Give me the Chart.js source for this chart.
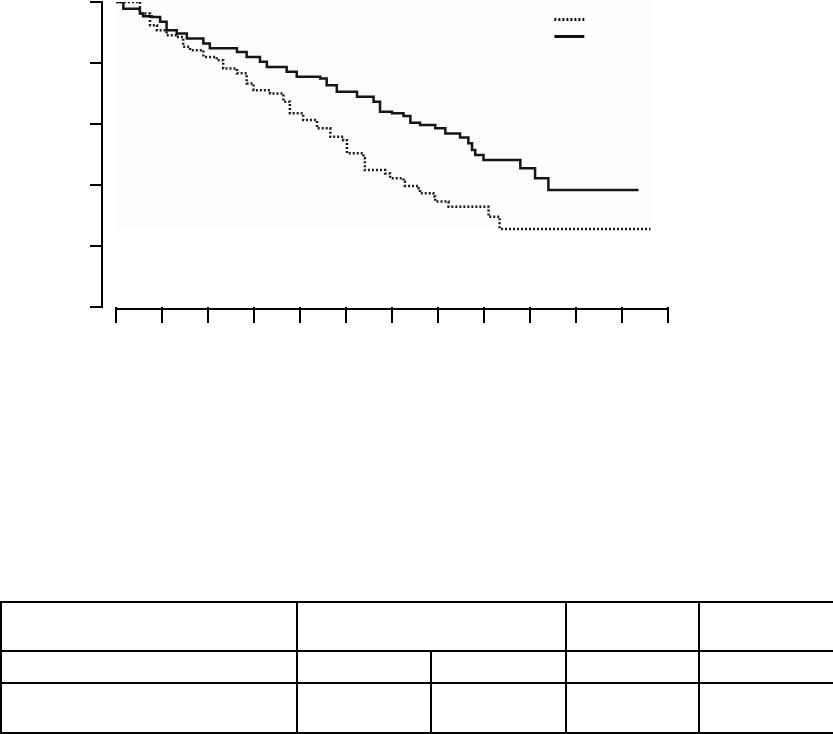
<!DOCTYPE html>
<html>
<head>
<meta charset="utf-8">
<script src="https://cdn.jsdelivr.net/npm/chart.js@4/dist/chart.umd.min.js"></script>
<style>
  html, body { margin: 0; padding: 0; background: #fff; }
  #wrap { position: relative; width: 833px; height: 734px; }
  #c { position: absolute; left: 0; top: 0; }
  table { position: absolute; left: 0; top: 601px; width: 833px; border-collapse: collapse; table-layout: fixed; }
  td { border: 2px solid #000; padding: 0; }
</style>
</head>
<body>
<div id="wrap">
  <canvas id="c" width="833" height="340"></canvas>
  <table>
    <colgroup>
      <col style="width:296px"><col style="width:134px"><col style="width:135px"><col style="width:133px"><col style="width:135px">
    </colgroup>
    <tr style="height:49px"><td></td><td colspan="2"></td><td></td><td></td></tr>
    <tr style="height:32px"><td></td><td></td><td></td><td></td><td></td></tr>
    <tr style="height:50px"><td></td><td></td><td></td><td></td><td></td></tr>
  </table>
</div>
<script>
// Tick values
const xTickValues = [0,1,2,3,4,5,6,7,8,9,10,11,12];
const yTickValues = [0, 0.2, 0.4, 0.6, 0.8, 1.0];

// Solid curve (upper group): event times and survival after each step
const solidTimes = [0, 0.16, 0.52, 0.59, 0.78, 0.96, 1.10, 1.32, 1.54, 1.90, 2.04, 2.63, 2.84, 3.13, 3.28, 3.71, 3.93, 4.44, 4.58, 4.80, 5.24, 5.60, 5.74, 6.00, 6.25, 6.40, 6.61, 6.94, 7.16, 7.48, 7.66, 7.74, 7.81, 7.99, 8.79, 9.11, 9.40, 11.36];
const solidSurv  = [1.000, 0.978, 0.962, 0.953, 0.951, 0.935, 0.907, 0.897, 0.880, 0.864, 0.848, 0.836, 0.820, 0.804, 0.787, 0.771, 0.755, 0.749, 0.727, 0.706, 0.689, 0.673, 0.640, 0.635, 0.626, 0.604, 0.597, 0.586, 0.569, 0.556, 0.537, 0.515, 0.498, 0.482, 0.455, 0.422, 0.384, 0.384];

// Dotted curve (lower group)
const dottedTimes = [0, 0.52, 0.74, 0.89, 1.10, 1.32, 1.46, 1.61, 1.90, 2.19, 2.33, 2.63, 2.84, 2.99, 3.35, 3.64, 3.78, 4.07, 4.37, 4.66, 4.94, 5.02, 5.38, 5.41, 5.85, 5.96, 6.25, 6.28, 6.58, 6.61, 6.90, 6.94, 7.23, 8.10, 8.34, 11.62];
const dottedSurv  = [1.000, 0.962, 0.924, 0.907, 0.891, 0.885, 0.853, 0.842, 0.820, 0.809, 0.782, 0.766, 0.733, 0.711, 0.700, 0.673, 0.635, 0.613, 0.586, 0.558, 0.547, 0.504, 0.488, 0.449, 0.438, 0.422, 0.411, 0.397, 0.389, 0.373, 0.362, 0.346, 0.329, 0.296, 0.256, 0.256];

// Shaded plot panel extent (in data units) and legend anchors
const panelBox = { x0: 0, x1: 11.62, y0: 0.253, y1: 1.01 };
const legendAnchor = { x0: 9.53, x1: 10.18, yDotted: 0.943, ySolid: 0.888 };

const toXY = (t, s) => t.map((v, i) => ({ x: v, y: s[i] }));

const decor = {
  id: 'decor',
  beforeDatasetsDraw(chart) {
    const { ctx, scales: { x, y } } = chart;
    ctx.save();
    ctx.fillStyle = '#fcfcfc';
    const l = x.getPixelForValue(panelBox.x0), r = x.getPixelForValue(panelBox.x1);
    const t = 0, b = y.getPixelForValue(panelBox.y0);
    ctx.fillRect(l, t, r - l, b - t);
    ctx.restore();
  },
  afterDraw(chart) {
    const { ctx, scales: { x, y }, chartArea } = chart;
    ctx.save();
    // x-axis line spanning the tick range only
    ctx.strokeStyle = '#000';
    ctx.lineWidth = 2;
    ctx.beginPath();
    const yb = chartArea.bottom + 2;
    ctx.moveTo(x.getPixelForValue(xTickValues[0]) - 1, yb);
    ctx.lineTo(x.getPixelForValue(xTickValues[xTickValues.length - 1]) + 1, yb);
    ctx.stroke();
    // legend samples
    const lx0 = x.getPixelForValue(legendAnchor.x0), lx1 = x.getPixelForValue(legendAnchor.x1);
    ctx.lineWidth = 3;
    ctx.strokeStyle = '#111';
    ctx.setLineDash([2, 2]);
    ctx.beginPath();
    const yd = Math.round(y.getPixelForValue(legendAnchor.yDotted)) + 0.5;
    ctx.moveTo(lx0, yd); ctx.lineTo(lx1, yd); ctx.stroke();
    ctx.setLineDash([]);
    ctx.lineWidth = 3;
    ctx.beginPath();
    const ys = Math.round(y.getPixelForValue(legendAnchor.ySolid)) + 0.5;
    ctx.moveTo(lx0, ys); ctx.lineTo(lx1, ys); ctx.stroke();
    ctx.restore();
  }
};

new Chart(document.getElementById('c'), {
  type: 'line',
  data: {
    datasets: [
      {
        label: 'dotted',
        data: toXY(dottedTimes, dottedSurv),
        stepped: true,
        borderColor: '#1a1a1a',
        borderWidth: 2.5,
        borderDash: [2, 2],
        pointRadius: 0,
        fill: false
      },
      {
        label: 'solid',
        data: toXY(solidTimes, solidSurv),
        stepped: true,
        borderColor: '#151515',
        borderWidth: 2.5,
        pointRadius: 0,
        fill: false
      }
    ]
  },
  options: {
    responsive: false,
    animation: false,
    devicePixelRatio: 1,
    layout: { padding: { left: 90, right: 165, top: 2, bottom: 17 } },
    plugins: { legend: { display: false }, tooltip: { enabled: false } },
    scales: {
      x: {
        type: 'linear',
        min: -0.304,
        max: 12,
        afterBuildTicks: (s) => { s.ticks = xTickValues.map(v => ({ value: v })); },
        ticks: { display: false },
        border: { display: false },
        grid: { drawOnChartArea: false, drawTicks: true, tickLength: 16, lineWidth: 2, color: '#000' }
      },
      y: {
        type: 'linear',
        min: 0,
        max: 1,
        afterBuildTicks: (s) => { s.ticks = yTickValues.map(v => ({ value: v })); },
        ticks: { display: false },
        border: { display: true, color: '#000', width: 2 },
        grid: { drawOnChartArea: false, drawTicks: true, tickLength: 12, lineWidth: 2, color: '#000' }
      }
    }
  },
  plugins: [decor]
});
</script>
</body>
</html>
